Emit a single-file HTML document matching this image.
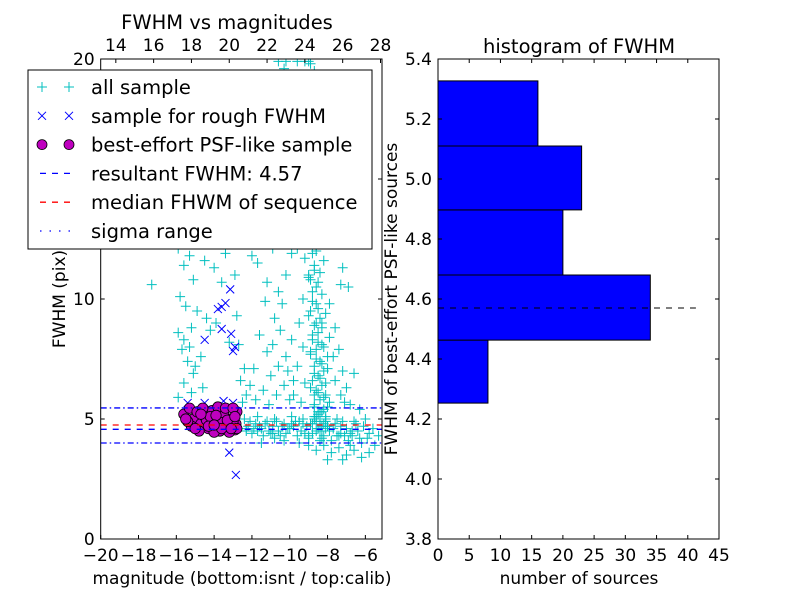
<!DOCTYPE html>
<html><head><meta charset="utf-8"><style>
body{margin:0;background:#fff;}
svg{display:block;font-family:"DejaVu Sans","Liberation Sans",sans-serif;}
</style></head><body>
<svg id="chart" width="800" height="600" viewBox="0 0 800 600"></svg>
<script>
// ---- data ----
const cyanMag = [-8.9,-8.7,-9.1,-8.8,-9.0,-8.6,-8.9,-9.2,-8.8,-8.7,-9.0,-8.5,-8.9,-9.3,-8.7,-8.9,-8.6,-9.1,-8.8,-8.5,-9.0,-8.7,-8.4,-8.9,-8.6,-9.2,-8.7,-8.4,-8.9,-8.6,-8.3,-8.8,-8.5,-9.0,-8.6,-8.3,-8.8,-8.5,-8.2,-8.9,-8.6,-8.3,-8.0,-8.7,-8.4,-8.1,-8.9,-8.5,-8.2,-7.9,-8.7,-8.4,-8.1,-8.6,-8.3,-9.4,-9.5,-9.4,-9.6,-9.4,-9.6,-8.2,-8.1,-7.9,-7.7,-7.6,-9.3,-9.5,-9.3,-9.6,-9.2,-9.8,-9.4,
-10.8,-10.5,-10.9,-10.2,-10.6,-11.0,-10.3,-10.7,-10.0,-11.1,-10.4,-9.9,-10.1,-9.8,-7.4,-7.2,-7.0,-6.6,-7.3,-6.8,-6.3,-7.6,-7.9,-7.3,-6.9,-7.1,-10.6,-11.3,-11.6,-11.2,-11.4,-11.9,-12.1,-11.8,
-10.3,-10.0,-10.5,-9.9,-10.8,-11.1,-10.4,-11.5,-10.9,-11.7,-9.9,-10.2,-11.2,-12.0,-11.8,-11.9,-10.7,-9.8,-7.6,-7.2,-8.0,-7.5,
-15.9,-15.3,-15.6,-14.5,-14.0,-13.4,-15.1,-13.6,-12.9,-15.8,-15.5,-14.9,-14.4,-13.9,-15.2,-15.9,-15.6,-15.3,-14.7,-15.7,-15.4,-15.1,-15.6,-15.2,-14.6,-12.7,-12.4,-12.6,-12.3,-15.9,-17.3,-12.8,-13.2,-14.2,-15.0,-12.5,
-12.4,-12.1,-11.8,-11.5,-11.2,-10.9,-10.6,-10.3,-10.0,-9.7,-9.4,-9.1,-8.8,-8.5,-8.2,-7.9,-7.6,-7.3,-7.0,-6.7,-6.4,-6.1,-5.8,-12.3,-12.0,-11.7,-11.4,-11.1,-10.8,-10.5,-10.2,-9.9,-9.6,-9.3,-9.0,-8.7,-8.4,-8.1,-7.8,-7.5,-7.2,-6.9,-6.6,-6.3,-6.0,-5.6,-5.3,-12.2,-11.6,-10.7,-9.8,-8.9,-8.0,-7.1,
-9.0,-8.6,-8.2,-7.8,-7.4,-7.0,-6.6,-6.2,-5.8,-8.0,-7.2,-6.8,-9.5,-10.3,-11.5,-5.5,
-10.6,-10.2,-9.6,-9.2,-9.0,
-9.0,-8.8,-8.7,-8.9,-9.1,-8.6,-8.8,-9.0,-8.7,-8.5,-8.9,-9.1,-8.6,-8.8,-8.7,-9.0,-8.5,-8.8,-8.6,-8.9,-8.4,-8.7,-8.5,-8.8,-8.3,-8.6,-8.9,-8.4,-8.7,-8.2,-8.5,-8.8,-8.3,-8.6,-8.1,-8.4,-8.7,-8.2,-8.5,-8.0,-8.3,-8.6,-8.1,-8.4,-8.8,-8.2,-8.5,-8.0,-8.3,-8.7,-9.0,-8.9,-8.8,-8.6,-8.4,-9.2,-8.3,-8.0,-8.7,-8.5,
-11.9,-11.3,-10.9,-10.4,-9.5,-9.2,-8.6,-8.3,-7.7,-7.4,-6.8,-6.5,-5.9,-11.0,-10.1,-9.3,-8.4,-7.5,-6.7,-12.3,-11.7,-10.8,-9.9,-9.0,-8.1,-7.3,-6.2];
const cyanFwhm = [19.8,19.5,19.2,18.7,18.3,18.0,17.6,17.2,16.9,16.5,16.2,15.9,15.6,15.3,15.0,14.7,14.4,14.1,13.8,13.5,13.2,12.9,12.6,12.3,12.0,11.7,11.4,11.1,10.8,10.5,10.2,9.9,9.6,9.3,9.0,8.8,8.5,8.2,8.0,7.8,7.5,7.3,7.1,6.9,6.7,6.5,6.3,6.1,5.9,5.7,5.5,5.3,5.1,4.9,4.7,18.8,17.9,16.0,14.9,13.0,12.1,11.6,9.4,8.4,7.6,6.6,10.0,9.0,8.0,7.2,6.5,6.0,5.7,
9.2,8.7,8.1,7.6,7.2,6.8,6.4,6.0,5.8,5.6,9.8,8.3,7.0,6.6,7.9,7.0,6.3,6.9,6.0,5.6,5.4,8.8,9.8,10.6,10.5,5.7,10.3,9.9,8.5,7.8,6.2,7.1,6.4,5.8,
19.6,18.9,17.3,16.6,15.8,14.2,13.7,12.8,12.1,11.5,11.9,11.0,10.7,11.8,13.5,17.4,18.3,14.5,12.9,11.3,14.8,16.4,
12.1,11.8,11.4,11.6,11.3,11.9,10.8,10.7,11.0,10.1,9.7,9.5,9.2,9.0,8.8,8.6,8.3,8.0,7.6,7.9,7.4,6.9,6.5,6.1,6.3,8.1,7.1,6.6,6.0,5.9,10.6,9.3,8.2,8.7,7.2,5.7,
5.0,4.9,4.8,4.6,4.9,4.7,4.5,4.8,4.6,4.9,4.5,4.7,4.4,4.6,4.3,4.5,4.8,4.4,4.6,4.3,4.5,4.7,4.4,4.5,4.4,5.1,4.3,4.5,5.0,4.3,4.4,5.1,4.3,5.0,4.2,5.1,4.1,4.9,4.1,5.0,4.9,4.1,4.9,4.2,5.0,4.6,4.3,4.7,4.7,4.9,4.7,4.8,4.7,4.3,
3.9,3.7,3.9,3.6,3.8,3.5,3.7,3.4,3.6,3.3,3.3,3.9,4.0,4.1,4.0,3.9,
19.9,19.9,19.9,19.9,19.9,
19.0,18.5,17.8,17.0,16.6,16.0,15.4,14.6,14.2,13.9,13.4,12.6,12.2,11.9,11.2,10.9,10.7,10.3,9.8,9.5,9.2,8.9,8.6,8.3,8.1,7.9,7.7,7.4,7.2,7.0,6.8,6.6,6.4,6.2,6.0,5.8,5.6,5.4,5.2,5.5,5.3,5.1,5.0,4.9,4.8,4.8,4.6,4.7,4.5,5.0,11.0,13.6,15.2,17.4,18.9,12.8,9.0,7.6,6.0,5.3,
4.6,4.8,4.4,4.7,4.9,4.4,4.5,4.2,4.6,4.3,4.4,4.8,4.2,4.4,4.6,4.8,4.5,4.3,4.5,4.6,4.5,4.2,4.8,4.3,4.6,4.7,4.0,4.4];
const roughMag  = [-13.15,-13.4,-13.6,-13.8,-13.6,-14.5,-13.1,-12.9,-13.0,-13.5,-14.5,-15.4,-13.0,-13.2,-12.85];
const roughFwhm = [10.4,9.83,9.67,9.58,8.75,8.3,8.55,8.0,7.83,5.75,5.67,5.67,5.67,3.6,2.67];
const psfMag  = [-15.6,-15.3,-15.1,-14.9,-14.7,-14.5,-14.3,-14.1,-13.9,-13.7,-13.5,-13.3,-13.1,-12.9,-12.8,-15.2,-14.8,-14.4,-14.0,-13.6,-13.2,-12.85,-15.4,-14.6,-13.8,-13.4,-13.0,-14.2,-13.0,-15.0,-14.7,-13.9,-13.3,-12.8,-14.3,-13.6,-15.5,-14.0,-13.1,-12.9];
const psfFwhm = [5.2,5.45,5.0,5.3,4.8,5.1,4.6,5.35,4.9,4.5,5.2,4.7,5.0,4.55,5.3,4.7,4.5,4.95,4.45,4.85,4.45,4.8,4.9,5.45,5.5,5.45,5.45,5.1,4.9,4.6,5.2,5.15,4.95,4.6,4.7,4.6,5.0,4.75,4.6,5.1];
const resultFwhm = 4.57, medianFwhm = 4.75, sigmaLo = 4.0, sigmaHi = 5.46;
const histEdges = [4.253,4.463,4.680,4.897,5.110,5.327];
const histCounts = [8,34,20,23,16];
const xTicksBottom = [-20,-18,-16,-14,-12,-10,-8,-6];
const xTicksTop = [14,16,18,20,22,24,26,28];
const yTicksLeft = [0,5,10,15,20];
const xTicksHist = [0,5,10,15,20,25,30,35,40,45];
const yTicksHist = [3.8,4.0,4.2,4.4,4.6,4.8,5.0,5.2,5.4];

// ---- geometry ----
const NS='http://www.w3.org/2000/svg';
const svg=document.getElementById('chart');
function el(tag,attrs,parent){const e=document.createElementNS(NS,tag);for(const k in attrs)e.setAttribute(k,attrs[k]);(parent||svg).appendChild(e);return e;}
const L={x0:100.7,x1:382,y0:59,y1:539,xmin:-20,xmax:-5.12,ymin:0,ymax:20,tmin:13.2,tmax:28.08};
const sx=v=>L.x0+(v-L.xmin)/(L.xmax-L.xmin)*(L.x1-L.x0);
const stx=v=>L.x0+(v-L.tmin)/(L.tmax-L.tmin)*(L.x1-L.x0);
const sy=v=>L.y1-(v-L.ymin)/(L.ymax-L.ymin)*(L.y1-L.y0);
const R={x0:438,x1:719,y0:59,y1:539,xmin:0,xmax:45,ymin:3.8,ymax:5.4};
const hx=v=>R.x0+(v-R.xmin)/(R.xmax-R.xmin)*(R.x1-R.x0);
const hy=v=>R.y1-(v-R.ymin)/(R.ymax-R.ymin)*(R.y1-R.y0);
const FS=17;

// ---- left panel ----
const gL=el('g',{});


el('defs',{}).innerHTML='<clipPath id="clipL"><rect x="100.7" y="59" width="281.3" height="480"/></clipPath>';
const pts=el('g',{'clip-path':'url(#clipL)'},gL);


for(let i=0;i<cyanMag.length;i++){
  const x=sx(cyanMag[i]),y=sy(cyanFwhm[i]);
  const p=el('path',{d:`M${x-5},${y}H${x+5}M${x},${y-5}V${y+5}`,stroke:'#00bfbf','stroke-width':1,fill:'none'},pts);
  
  
}
for(let i=0;i<roughMag.length;i++){
  const x=sx(roughMag[i]),y=sy(roughFwhm[i]);
  const p=el('path',{d:`M${x-4},${y-4}L${x+4},${y+4}M${x-4},${y+4}L${x+4},${y-4}`,stroke:'#0000ff','stroke-width':1,fill:'none'},pts);
  
  
}
for(let i=0;i<psfMag.length;i++){
  const c=el('circle',{cx:sx(psfMag[i]),cy:sy(psfFwhm[i]),r:5.2,fill:'#bf00bf',stroke:'#000','stroke-width':0.8},pts);
  
  
}
function hline(v,color,dash,name){
  const l=el('line',{x1:L.x0,x2:L.x1,y1:sy(v),y2:sy(v),stroke:color,'stroke-width':1.3,'stroke-dasharray':dash},gL);
  
  
}
hline(sigmaHi,'#0000ff','6,3,1.5,3','sigma-upper-line');
hline(sigmaLo,'#0000ff','6,3,1.5,3','sigma-lower-line');
hline(medianFwhm,'#ff0000','6,6','median-fwhm-line');
hline(resultFwhm,'#0000ff','6,6','resultant-fwhm-line');
el('rect',{x:L.x0,y:L.y0,width:L.x1-L.x0,height:L.y1-L.y0,fill:'none',stroke:'#000','stroke-width':1},gL);
for(const t of xTicksBottom){const x=sx(t);
  el('line',{x1:x,x2:x,y1:L.y1,y2:L.y1-4,stroke:'#000'},gL);
  const tx=el('text',{x:x,y:L.y1+22,'text-anchor':'middle','font-size':FS},gL);tx.textContent=String(t).replace('-','\u2212');
  }
for(const t of xTicksTop){const x=stx(t);
  el('line',{x1:x,x2:x,y1:L.y0,y2:L.y0+4,stroke:'#000'},gL);
  const tx=el('text',{x:x,y:L.y0-8,'text-anchor':'middle','font-size':FS},gL);tx.textContent=t;
  }
for(const t of yTicksLeft){const y=sy(t);
  el('line',{x1:L.x0,x2:L.x0+4,y1:y,y2:y,stroke:'#000'},gL);
  el('line',{x1:L.x1,x2:L.x1-4,y1:y,y2:y,stroke:'#000'},gL);
  const tx=el('text',{x:L.x0-6,y:y+6,'text-anchor':'end','font-size':FS},gL);tx.textContent=t;
  }
let t;
t=el('text',{x:227,y:29,'text-anchor':'middle','font-size':19.5},gL);t.textContent='FWHM vs magnitudes';

t=el('text',{x:242,y:584,'text-anchor':'middle','font-size':FS},gL);t.textContent='magnitude (bottom:isnt / top:calib)';

t=el('text',{x:0,y:0,'text-anchor':'middle','font-size':FS,transform:'translate(65,299) rotate(-90)'},gL);t.textContent='FWHM (pix)';


// legend
const lg=el('g',{},gL);


el('rect',{x:28,y:70,width:344,height:179,fill:'#fff',stroke:'#000','stroke-width':1},lg);
const labels=['all sample','sample for rough FWHM','best-effort PSF-like sample','resultant FWHM: 4.57','median FHWM of sequence','sigma range'];
labels.forEach((lab,i)=>{
  const y=87+i*28.8;
  const e=el('g',{},lg);
  
  
  if(i===0){for(const x of [42,69])el('path',{d:`M${x-5},${y}H${x+5}M${x},${y-5}V${y+5}`,stroke:'#00bfbf',fill:'none'},e);}
  if(i===1){for(const x of [42,69])el('path',{d:`M${x-4},${y-4}L${x+4},${y+4}M${x-4},${y+4}L${x+4},${y-4}`,stroke:'#0000ff',fill:'none'},e);}
  if(i===2){for(const x of [42,69])el('circle',{cx:x,cy:y,r:5,fill:'#bf00bf',stroke:'#000','stroke-width':0.8},e);}
  if(i===3)el('line',{x1:40,x2:72,y1:y,y2:y,stroke:'#0000ff','stroke-width':1.3,'stroke-dasharray':'6,6'},e);
  if(i===4)el('line',{x1:40,x2:72,y1:y,y2:y,stroke:'#ff0000','stroke-width':1.3,'stroke-dasharray':'6,6'},e);
  if(i===5)el('line',{x1:40,x2:72,y1:y,y2:y,stroke:'#0000ff','stroke-width':1.3,'stroke-dasharray':'1.5,8'},e);
  const tx=el('text',{x:91,y:y+7,'font-size':19.5},e);tx.textContent=lab;
});

// ---- right panel ----
const gR=el('g',{});


for(let i=0;i<histCounts.length;i++){
  const r=el('rect',{x:hx(0),y:hy(histEdges[i+1]),width:hx(histCounts[i])-hx(0),height:hy(histEdges[i])-hy(histEdges[i+1]),fill:'#0000ff',stroke:'#000','stroke-width':1},gR);
  
  
}
const dl=el('line',{x1:hx(0),x2:hx(41.3),y1:hy(resultFwhm),y2:hy(resultFwhm),stroke:'#000','stroke-width':1,'stroke-dasharray':'6,6'},gR);


el('rect',{x:R.x0,y:R.y0,width:R.x1-R.x0,height:R.y1-R.y0,fill:'none',stroke:'#000'},gR);
for(const v of xTicksHist){const x=hx(v);
  el('line',{x1:x,x2:x,y1:R.y1,y2:R.y1-4,stroke:'#000'},gR);
  el('line',{x1:x,x2:x,y1:R.y0,y2:R.y0+4,stroke:'#000'},gR);
  const tx=el('text',{x:x,y:R.y1+22,'text-anchor':'middle','font-size':FS},gR);tx.textContent=v;
  }
for(const v of yTicksHist){const y=hy(v);
  el('line',{x1:R.x0,x2:R.x0+4,y1:y,y2:y,stroke:'#000'},gR);
  el('line',{x1:R.x1,x2:R.x1-4,y1:y,y2:y,stroke:'#000'},gR);
  const tx=el('text',{x:R.x0-6,y:y+6,'text-anchor':'end','font-size':FS},gR);tx.textContent=v.toFixed(1);
  }
t=el('text',{x:579,y:53,'text-anchor':'middle','font-size':19.5},gR);t.textContent='histogram of FWHM';

t=el('text',{x:579,y:584,'text-anchor':'middle','font-size':FS},gR);t.textContent='number of sources';

t=el('text',{x:0,y:0,'text-anchor':'middle','font-size':FS,transform:'translate(397,299) rotate(-90)'},gR);t.textContent='FWHM of best-effort PSF-like sources';

</script>
</body></html>
